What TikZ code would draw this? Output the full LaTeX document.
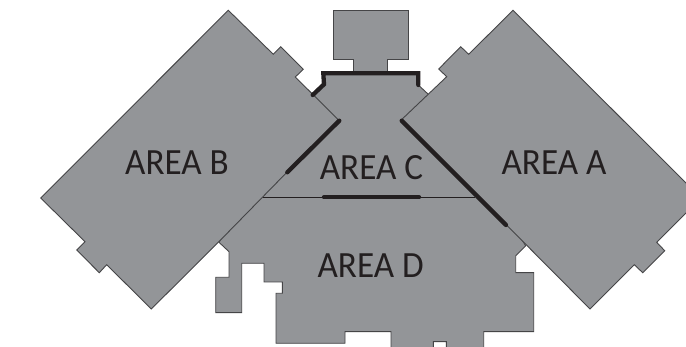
\documentclass[tikz,border=0pt]{standalone}
\usepackage{fontspec}
\usepackage{graphicx}
\setmainfont{Carlito}
\tikzset{
  plan/.style={fill=planfill,draw=planline,line width=0.9pt,line join=miter},
  wall/.style={draw=wallcol,line width=4.3pt,line cap=round,line join=miter},
  thin wall/.style={draw=wallcol,line width=1pt},
  arealabel/.style={text=wallcol,inner sep=0pt,font=\fontsize{37}{37}\selectfont}
}
\definecolor{planfill}{HTML}{939598}
\definecolor{planline}{HTML}{454547}
\definecolor{wallcol}{HTML}{231F20}
\begin{document}
\begin{tikzpicture}[x=1pt,y=-1pt]
\path[use as bounding box] (0,0) rectangle (686,347);
\clip (0,0) rectangle (686,347);
\fill[white] (0,0) rectangle (686,347);
% top room
\path[plan] (333.3,10.7) -- (408.3,10.7) -- (408.3,59) -- (387.7,59) -- (387.7,74) -- (353.3,74) -- (353.3,59) -- (333.3,59) -- cycle;
% areas C and D
\path[plan] (322.7,73.3) -- (418.3,73.3) -- (418.3,85) -- (428.3,94.3) -- (525.7,245.7) -- (515.7,255.7) -- (515.7,272.7) -- (533.7,272.7) -- (533.7,331.7) -- (483.7,331.7) -- (483.7,350) -- (446.3,350) -- (446.3,341.7) -- (433.3,341.7) -- (433.3,350) -- (391,350) -- (391,331.7) -- (345,331.7) -- (345,343.3) -- (276,343.3) -- (276,293.3) -- (282.3,293.3) -- (282.3,282) -- (264,282) -- (264,263.3) -- (241.7,263.3) -- (241.7,312.7) -- (215.7,312.7) -- (215.7,277.3) -- (229,277.3) -- (229,251.7) -- (219,242.3) -- (312.7,95) -- (324,84.3) -- cycle;
% area B
\path[plan] (228.3,10.3) -- (273.3,54.3) -- (280.7,46.7) -- (303.3,69.3) -- (295.3,77) -- (338.3,119.8) -- (218.3,242.3) -- (151.3,309) -- (106.7,264.7) -- (99.3,272.7) -- (76.7,250) -- (85,241.7) -- (40.7,198) -- cycle;
% area A
\path[plan] (513,10.3) -- (701,198) -- (656.7,242.3) -- (664.7,250.7) -- (642.7,272.7) -- (634.3,264.7) -- (590,309) -- (401.7,119.5) -- (446.7,76.7) -- (438.7,69) -- (460.7,46.7) -- (468.7,54.3) -- cycle;
% walls
\coordinate (tl) at (312.7,95);
\coordinate (tm) at (324,84.3);
\coordinate (tc) at (323.3,73.3);
\coordinate (td) at (418.3,73.3);
\coordinate (te) at (418.3,85);
\draw[wall] (tl) -- (tm) -- (tc) -- (td) -- (te);
\coordinate (la) at (339.3,120.7);
\coordinate (lb) at (287.3,172.3);
\draw[wall] (la) -- (lb);
\coordinate (ra) at (401.7,120.7);
\coordinate (rb) at (506,225);
\draw[wall] (ra) -- (rb);
\coordinate (ma) at (263.3,197.3);
\coordinate (mb) at (475,197.3);
\draw[thin wall] (ma) -- (mb);
\coordinate (mc) at (324,197.3);
\coordinate (md) at (419,197.3);
\draw[wall] (mc) -- (md);
% labels
\node[arealabel] (areab) at (177,163) {\scalebox{0.95}[1]{AREA B}};
\node[arealabel] (areaa) at (554,163) {\scalebox{0.95}[1]{AREA A}};
\node[arealabel] (areac) at (371.5,168) {\scalebox{0.95}[1]{AREA C}};
\node[arealabel] (aread) at (370.7,266) {\scalebox{0.95}[1]{AREA D}};
\end{tikzpicture}
\end{document}
